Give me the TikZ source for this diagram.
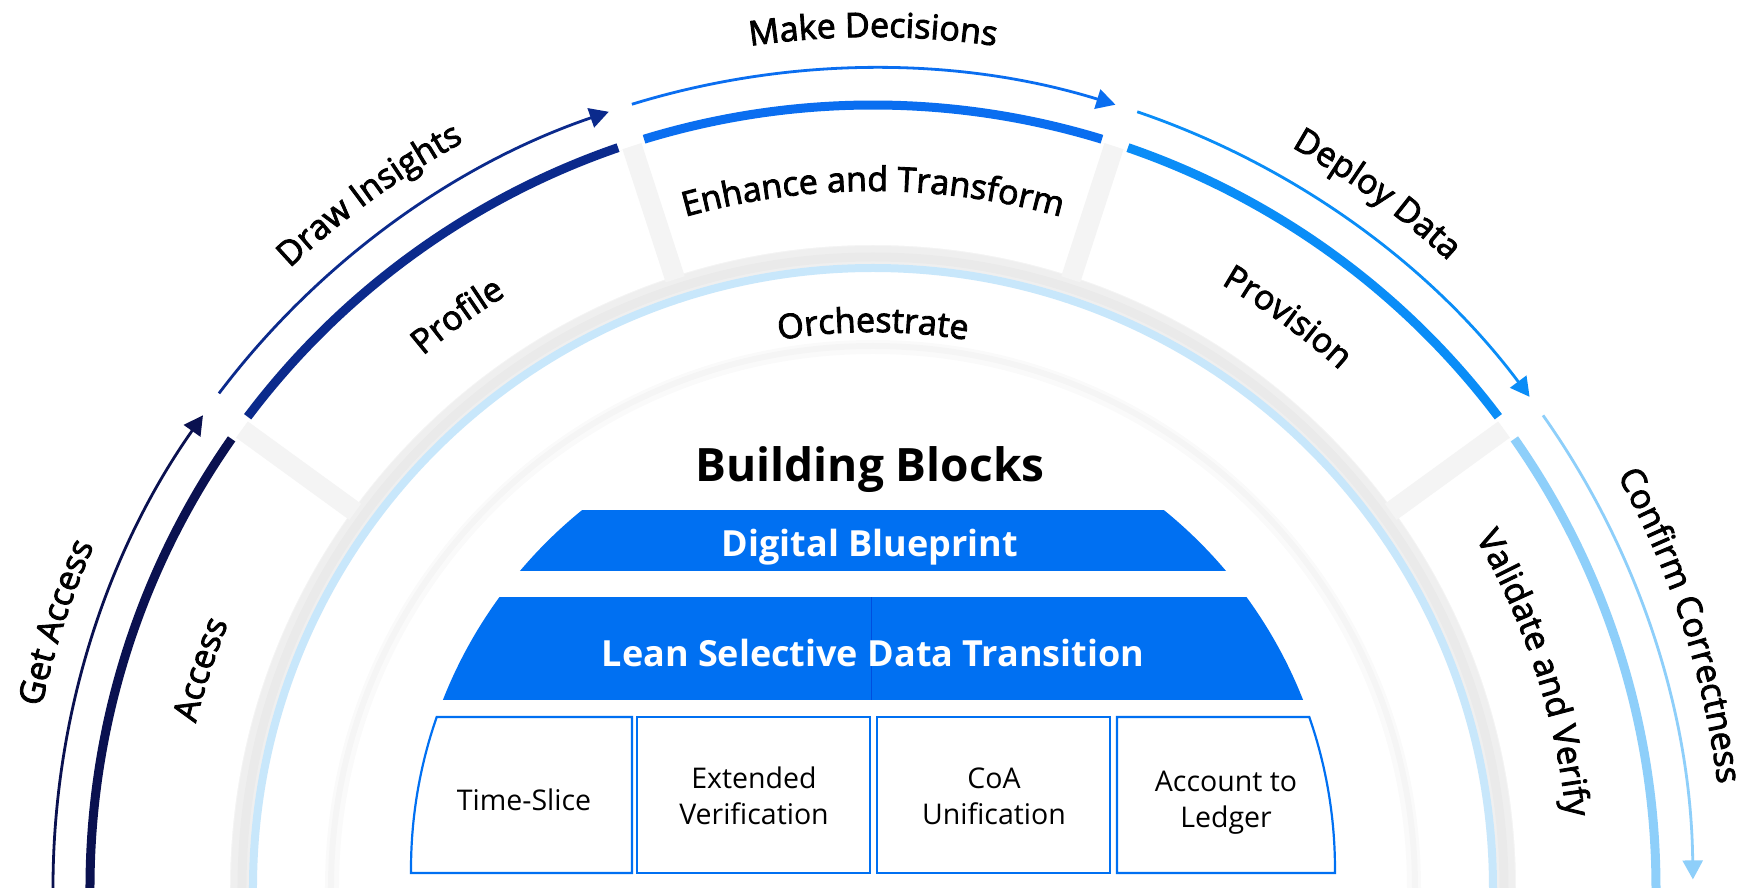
\documentclass[tikz,border=0pt]{standalone}
\usepackage{fontspec}
\setmainfont{Open Sans}
\newfontfamily\arcfont{Open Sans}[FakeBold=2.5]
\usetikzlibrary{arrows.meta,decorations.text}
\definecolor{navyA}{HTML}{0A1150}
\definecolor{blueP}{HTML}{0B2A8C}
\definecolor{blueE}{HTML}{0A6EF0}
\definecolor{blueD}{HTML}{0A8DF7}
\definecolor{skyV}{HTML}{8ECFFA}
\definecolor{ringblue}{HTML}{C8E7FB}
\definecolor{blockblue}{HTML}{0070F2}
\definecolor{gapgray}{HTML}{F4F4F4}
\newcommand\arcsize{\fontsize{34}{40}\selectfont}

\begin{document}
\begin{tikzpicture}[x=1pt,y=1pt,
  thick arc/.style={line width=9},
  thin arc/.style={line width=2.8,-{Triangle[length=19,width=20]}},
  gap band/.style={draw=gapgray,line width=20},
  shade ring/.style={draw=black,opacity=0.018},
  arc label/.style={decorate,decoration={text along path,text align=center,text={|\arcfont\arcsize|#1}}},
  block/.style={draw=blockblue,line width=2.2,fill=white},
  block text/.style={font=\fontsize{28.5}{36}\selectfont,align=center},
  tier text/.style={font=\bfseries\fontsize{36}{42}\selectfont,text=white,anchor=base}]
\useasboundingbox (-873,1) rectangle (876,888);
\clip (-873,1) rectangle (876,888);
\fill[white] (-873,1) rectangle (876,888);

\fill[gapgray,even odd rule] (0,0) circle (779) (0,0) circle (622);
\draw[shade ring,line width=18] (0,0) circle (633);
\draw[shade ring,line width=9] (0,0) circle (631);
\fill[white,even odd rule] (0,0) circle (779) (0,0) circle (643);
\draw[gap band] (144:640) -- (144:780);
\draw[gap band] (108:640) -- (108:780);
\draw[gap band] (72:640) -- (72:780);
\draw[gap band] (36:640) -- (36:780);
\draw[ringblue,line width=8] (0,0) circle (620);
\draw[shade ring,line width=14] (0,0) circle (541);
\draw[shade ring,line width=6] (0,0) circle (542);

\draw[thick arc,navyA] (181:783) arc[start angle=181,end angle=145,radius=783];
\draw[thick arc,blueP] (143:783) arc[start angle=143,end angle=109,radius=783];
\draw[thick arc,blueE] (107:783) arc[start angle=107,end angle=73,radius=783];
\draw[thick arc,blueD] (71:783) arc[start angle=71,end angle=37,radius=783];
\draw[thick arc,skyV] (35:783) arc[start angle=35,end angle=-1,radius=783];

\draw[thin arc,navyA] (181:820) arc[start angle=181,end angle=144.8,radius=820];
\draw[thin arc,blueP] (142.9:820) arc[start angle=142.9,end angle=108.8,radius=820];
\draw[thin arc,blueE] (107.1:820) arc[start angle=107.1,end angle=72.8,radius=820];
\draw[thin arc,blueD] (71.2:820) arc[start angle=71.2,end angle=36.8,radius=820];
\draw[thin arc,skyV] (35.2:820) arc[start angle=35.2,end angle=0.6,radius=820];

\path[arc label={Get Access}] (177:851) arc[start angle=177,end angle=147,radius=851];
\path[arc label={Draw Insights}] (141:851) arc[start angle=141,end angle=111,radius=851];
\path[arc label={Make Decisions}] (105:851) arc[start angle=105,end angle=75,radius=851];
\path[arc label={Deploy Data}] (69:851) arc[start angle=69,end angle=39,radius=851];
\path[arc label={Confirm Correctness}] (34:851) arc[start angle=34,end angle=2,radius=851];

\path[arc label={Access}] (177:697) arc[start angle=177,end angle=147,radius=697];
\path[arc label={Profile}] (141:697) arc[start angle=141,end angle=111,radius=697];
\path[arc label={Enhance and Transform}] (109:697) arc[start angle=109,end angle=71,radius=697];
\path[arc label={Provision}] (69:697) arc[start angle=69,end angle=39,radius=697];
\path[arc label={Validate and Verify}] (35:697) arc[start angle=35,end angle=1,radius=697];
\path[arc label={Orchestrate}] (105:556) arc[start angle=105,end angle=75,radius=556];

\node[font=\bfseries\fontsize{46}{52}\selectfont,anchor=base] (title) at (-3,406) {Building Blocks};
\begin{scope}
\clip (0,19) circle (462);
\fill[blockblue] (-470,317) rectangle (470,378);
\fill[blockblue] (-470,188) rectangle (470,291);
\draw[blue!70!black,opacity=0.3,line width=0.8] (-2,188) -- (-2,291);
\end{scope}
\node[tier text] (blueprint) at (-3,331) {Digital Blueprint};
\node[tier text] (lean) at (0,221) {Lean Selective Data Transition};

\draw[block] (-241,15) -- (-241,171) -- ([shift={(0,19)}]160.79:462) arc[start angle=160.79,end angle=180.5,radius=462] -- cycle;
\draw[block] (-236,15) rectangle (-3,171);
\draw[block] (4,15) rectangle (237,171);
\draw[block] (244,15) -- (244,171) -- ([shift={(0,19)}]19.21:462) arc[start angle=19.21,end angle=-0.5,radius=462] -- cycle;
\node[block text] (slice) at (-349,88) {Time-Slice};
\node[block text] (extended) at (-119,92) {Extended\\Verification};
\node[block text] (coa) at (121,92) {CoA\\Unification};
\node[block text] (ledger) at (353,85) {Account to\\Ledger};
\end{tikzpicture}
\end{document}
